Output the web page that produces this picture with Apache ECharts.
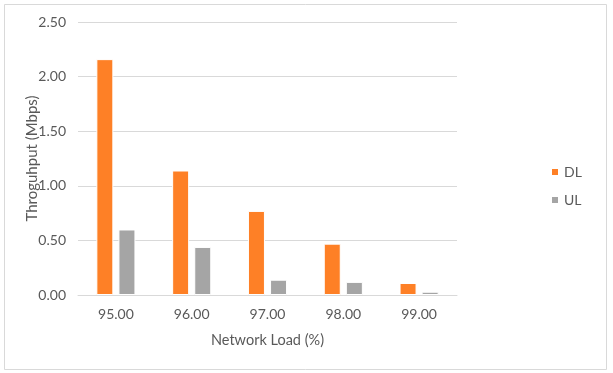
<!DOCTYPE html>
<html><head><meta charset="utf-8">
<script src="https://cdn.jsdelivr.net/npm/echarts@6/dist/echarts.min.js"></script>
<style>html,body{margin:0;padding:0;background:#fff}#c{width:613px;height:373px}</style>
</head><body><div id="c"></div>
<script>
const categories = ['95.00','96.00','97.00','98.00','99.00'];
const dlValues = [2.16, 1.14, 0.77, 0.47, 0.11];
const ulValues = [0.60, 0.44, 0.14, 0.12, 0.03];
const seriesNames = ['DL','UL'];
const chart = echarts.init(document.getElementById('c'));
const font = 'Lato, "Open Sans", sans-serif';
chart.setOption({
  animation:false,
  backgroundColor:'#fff',
  textStyle:{fontFamily:font},
  graphic:[{type:'rect',shape:{x:4.5,y:4.5,width:602,height:365},style:{fill:null,stroke:'#d9d9d9',lineWidth:1},silent:true}],
  grid:{left:78,right:156,top:22,bottom:78},
  legend:{orient:'vertical',left:545,top:160,itemWidth:8,itemHeight:8,itemGap:14,icon:'rect',
    textStyle:{color:'#595959',fontSize:14,fontFamily:font},data:seriesNames},
  xAxis:{type:'category',data:categories,name:'Network Load (%)',nameLocation:'middle',nameGap:38,
    nameMoveOverlap:false,
    nameTextStyle:{color:'#595959',fontSize:14.5,fontFamily:font},
    axisLine:{lineStyle:{color:'#d9d9d9',width:1}},axisTick:{show:false},
    axisLabel:{color:'#595959',fontSize:14,margin:12,fontFamily:font}},
  yAxis:{type:'value',min:0,max:2.5,interval:0.5,name:'Throguhput (Mbps)',nameLocation:'middle',nameGap:38,
    nameMoveOverlap:false,
    nameTextStyle:{color:'#595959',fontSize:15,fontFamily:font},
    axisLine:{show:false},axisTick:{show:false},
    axisLabel:{color:'#595959',fontSize:14,margin:12,fontFamily:font,formatter:v=>v.toFixed(2)},
    splitLine:{lineStyle:{color:'#d9d9d9',width:1}}},
  series:[
    {name:seriesNames[0],type:'bar',data:dlValues,barWidth:17,barGap:'30%',
      itemStyle:{color:'#fe8026',borderColor:'#fff',borderWidth:1}},
    {name:seriesNames[1],type:'bar',data:ulValues,barWidth:17,
      itemStyle:{color:'#a5a5a5',borderColor:'#fff',borderWidth:1}}
  ]
});
</script></body></html>
